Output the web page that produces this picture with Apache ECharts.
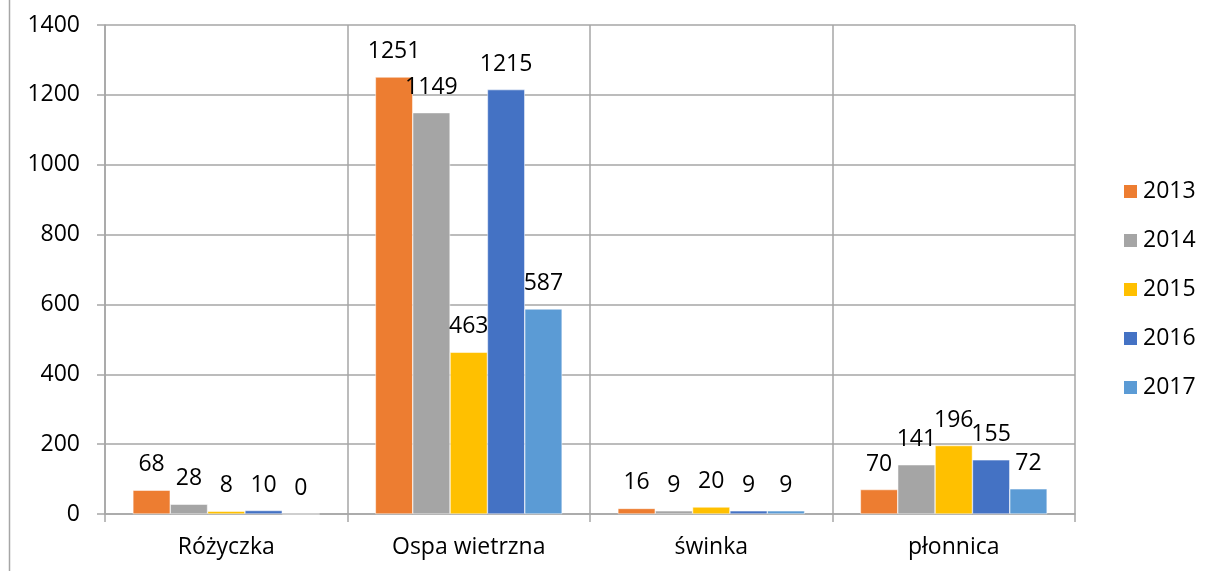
<!DOCTYPE html>
<html>
<head>
<meta charset="utf-8">
<script src="https://cdn.jsdelivr.net/npm/echarts@6/dist/echarts.min.js"></script>
<style>
  html, body { margin: 0; padding: 0; background: #fff; }
  #chart { width: 1208px; height: 571px; }
</style>
</head>
<body>
<div id="chart"></div>
<script>
const categories = ['Różyczka', 'Ospa wietrzna', 'świnka', 'płonnica']
const years = ['2013', '2014', '2015', '2016', '2017']
const values2013 = [68, 1251, 16, 70]
const values2014 = [28, 1149, 9, 141]
const values2015 = [8, 463, 20, 196]
const values2016 = [10, 1215, 9, 155]
const values2017 = [0, 587, 9, 72]
const yTicks = { min: 0, max: 1400, interval: 200 }

const colors = ['#ed7d31', '#a5a5a5', '#ffc000', '#4472c4', '#5b9bd5']
const font = '"Open Sans", "Noto Sans", sans-serif'
const gridColor = '#a6a6a6'
const fs = 23

const chart = echarts.init(document.getElementById('chart'))
const seriesValues = [values2013, values2014, values2015, values2016, values2017]

chart.setOption({
  color: colors,
  animation: false,
  textStyle: { fontFamily: font },
  grid: { left: 105, right: 133, top: 25, bottom: 57 },
  legend: {
    orient: 'vertical',
    left: 1117,
    top: 175,
    itemWidth: 15,
    itemHeight: 15,
    itemGap: 26,
    icon: 'rect',
    textStyle: { fontSize: fs, color: '#000', fontFamily: font },
    data: years
  },
  xAxis: {
    type: 'category',
    data: categories,
    axisLine: { lineStyle: { color: gridColor, width: 1.5 } },
    axisTick: { show: true, length: 8, lineStyle: { color: gridColor, width: 1.5 } },
    splitLine: { show: true, lineStyle: { color: gridColor, width: 1.5 } },
    axisLabel: { fontSize: fs, color: '#000', margin: 22, fontFamily: font }
  },
  yAxis: {
    type: 'value',
    min: yTicks.min,
    max: yTicks.max,
    interval: yTicks.interval,
    axisLine: { show: true, lineStyle: { color: gridColor, width: 1.5 } },
    axisTick: { show: true, length: 8, lineStyle: { color: gridColor, width: 1.5 } },
    splitLine: { show: true, lineStyle: { color: gridColor, width: 1.5 } },
    axisLabel: {
      fontSize: fs,
      color: '#000',
      margin: 25,
      fontFamily: font,
      formatter: v => String(v)
    }
  },
  graphic: [
    {
      type: 'line',
      shape: { x1: 9.5, y1: 0, x2: 9.5, y2: 571 },
      style: { stroke: gridColor, lineWidth: 1.5 }
    }
  ],
  series: years.map((y, i) => ({
    name: y,
    type: 'bar',
    barGap: '0%',
    barCategoryGap: '23%',
    data: seriesValues[i],
    itemStyle: { borderColor: '#fff', borderWidth: 0.5 },
    label: {
      show: true,
      position: 'top',
      distance: 14,
      fontSize: fs,
      color: '#000',
      fontFamily: font
    }
  }))
})
</script>
</body>
</html>
